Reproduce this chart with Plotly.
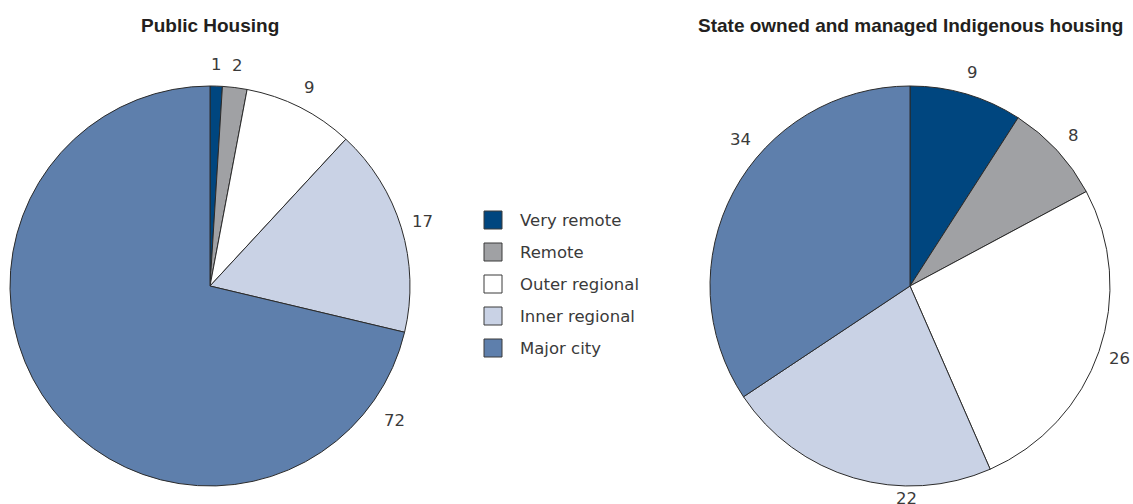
import math
import plotly.graph_objects as go

# Remoteness areas and the share (%) of dwellings in each
categories = ["Very remote", "Remote", "Outer regional", "Inner regional", "Major city"]
public_housing = [1, 2, 9, 17, 72]
indigenous_housing = [9, 8, 26, 22, 34]

colors = ["#00467f", "#a0a1a4", "#ffffff", "#c9d2e5", "#5e7fac"]

W, H = 1133, 504
R = 200            # pie radius in px
LABEL_R = 222      # default distance of value labels from the centre, px

# Label placement overrides: (angle in degrees clockwise from 12 o'clock, distance px);
# None = slice middle at the default distance
public_label_pos = [None, None, None, None, (126, 228)]
indigenous_label_pos = [None, None, None, (181, 213), (311, 224)]

panels = [
    dict(title="Public Housing", values=public_housing, cx=210, cy=286,
         label_pos=public_label_pos),
    dict(title="State owned and managed Indigenous housing", values=indigenous_housing,
         cx=910, cy=286, label_pos=indigenous_label_pos),
]

TITLE_FONT = "Liberation Sans, Arial, sans-serif"
TEXT_FONT = "DejaVu Sans, sans-serif"
TEXT_COLOR = "#3a3a3a"
TEXT_SIZE = 16.5

fig = go.Figure()
annotations = []
shapes = []

for p in panels:
    cx, cy = p["cx"], p["cy"]
    fig.add_trace(go.Pie(
        labels=categories,
        values=p["values"],
        sort=False,
        direction="clockwise",
        rotation=0,
        textinfo="none",
        hoverinfo="label+value",
        marker=dict(colors=colors, line=dict(color="#2b2b2b", width=1)),
        domain=dict(x=[(cx - R) / W, (cx + R) / W],
                    y=[1 - (cy + R) / H, 1 - (cy - R) / H]),
        showlegend=False,
    ))
    # panel title
    annotations.append(dict(
        text=f"<b>{p['title']}</b>", x=cx / W, y=1 - 25 / H,
        xref="paper", yref="paper", xanchor="center", yanchor="middle",
        showarrow=False, font=dict(family=TITLE_FONT, size=19, color="#231f20"),
    ))
    # value labels placed around the rim
    total = sum(p["values"])
    cum = 0
    for v, ov in zip(p["values"], p["label_pos"]):
        mid = (cum + v / 2) / total * 360
        cum += v
        deg, dist = ov if ov is not None else (mid, LABEL_R)
        ang = math.radians(deg)
        lx = cx + dist * math.sin(ang)
        ly = cy - dist * math.cos(ang)
        annotations.append(dict(
            text=str(v), x=lx / W, y=1 - ly / H,
            xref="paper", yref="paper", xanchor="center", yanchor="middle",
            showarrow=False, font=dict(family=TEXT_FONT, size=TEXT_SIZE, color=TEXT_COLOR),
        ))

# Legend: swatches and category names between the two pies
LEG_X, LEG_Y0, LEG_STEP, SW = 484, 211, 32, 18
for i, (cat, col) in enumerate(zip(categories, colors)):
    top = LEG_Y0 + i * LEG_STEP
    shapes.append(dict(
        type="rect", xref="paper", yref="paper",
        x0=LEG_X / W, x1=(LEG_X + SW) / W,
        y0=1 - (top + SW) / H, y1=1 - top / H,
        fillcolor=col, line=dict(color="#3a3a3a", width=1),
    ))
    annotations.append(dict(
        text=cat, x=518 / W, y=1 - (top + SW / 2) / H,
        xref="paper", yref="paper", xanchor="left", yanchor="middle",
        showarrow=False, font=dict(family=TEXT_FONT, size=TEXT_SIZE, color=TEXT_COLOR),
    ))

fig.update_layout(
    width=W, height=H,
    margin=dict(l=0, r=0, t=0, b=0),
    paper_bgcolor="white", plot_bgcolor="white",
    annotations=annotations, shapes=shapes,
    showlegend=False,
)

fig.write_html("out.html")
